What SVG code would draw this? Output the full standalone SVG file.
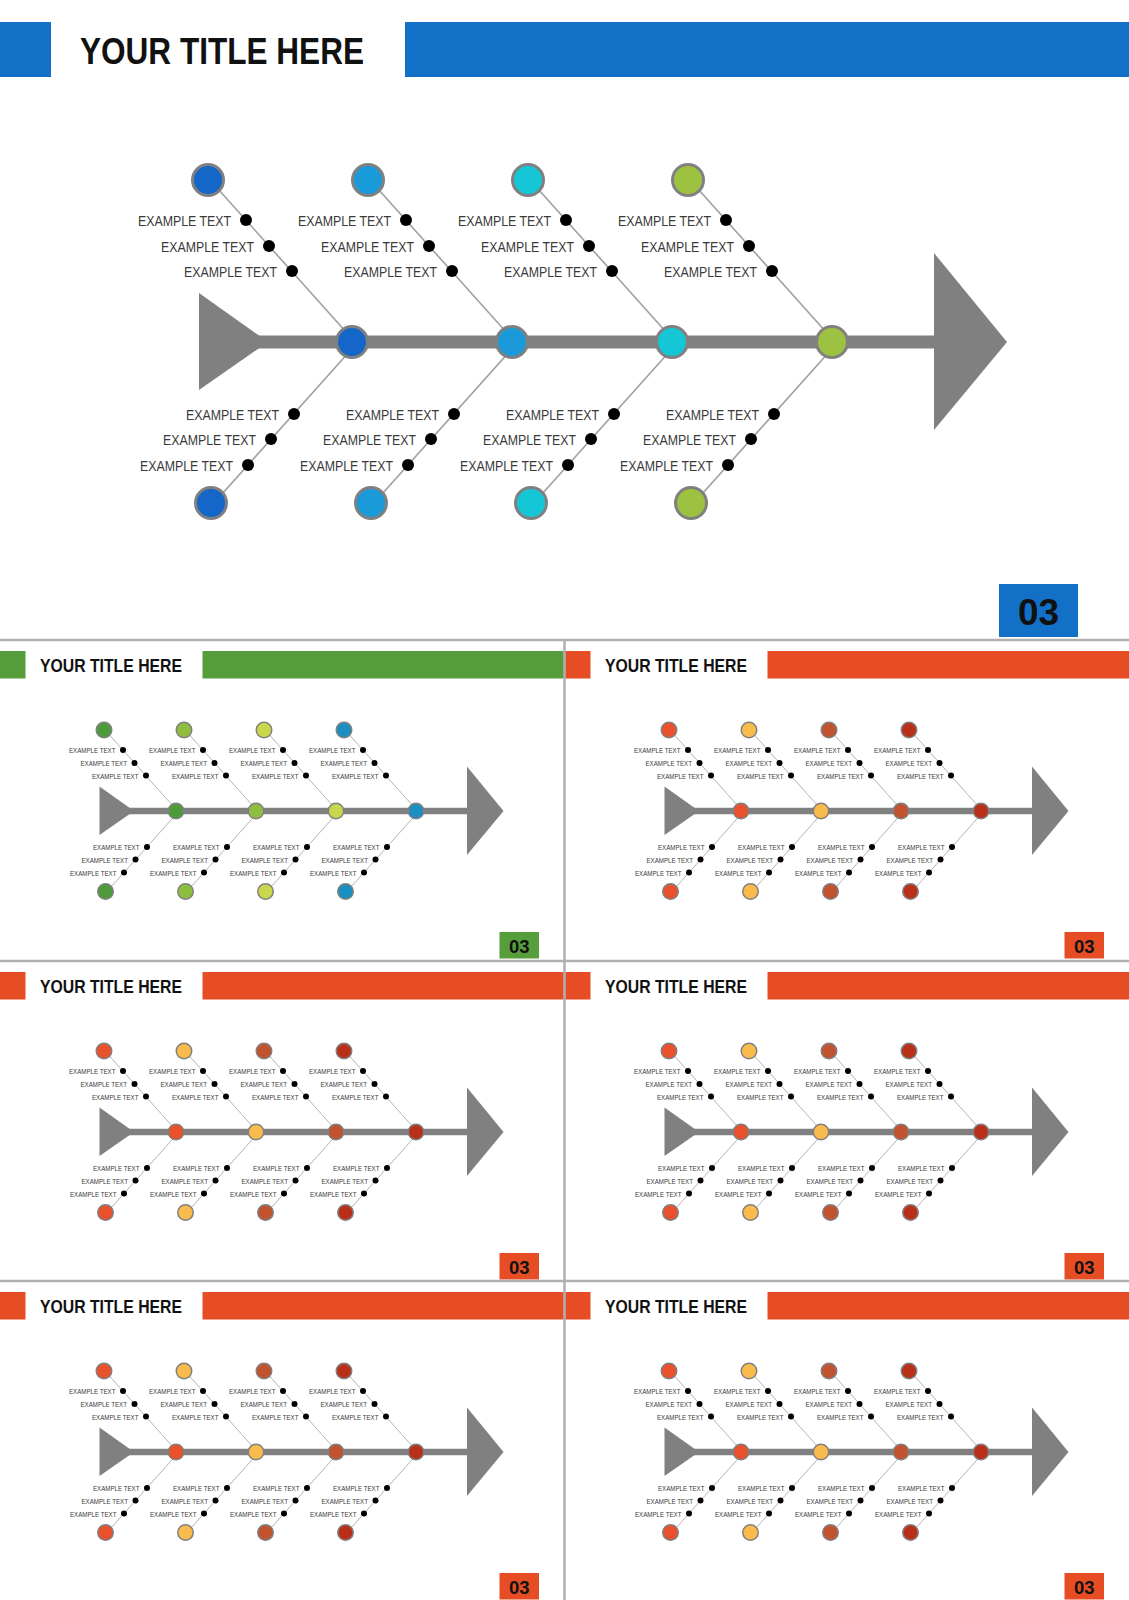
<svg xmlns="http://www.w3.org/2000/svg" width="1129" height="1600" viewBox="0 0 1129 1600">
<style>
.t{font-family:"Liberation Sans",Arial,sans-serif;font-size:15px;fill:#3a3a3a;text-anchor:end}
.ttl{font-family:"Liberation Sans",Arial,sans-serif;font-weight:700;font-size:37px;fill:#111}
.num{font-family:"Liberation Sans",Arial,sans-serif;font-weight:700;font-size:37px;fill:#111;text-anchor:middle}
.n{stroke:#808080;stroke-width:3}
.d{fill:#000}
.bone line{stroke:#a0a0a0;stroke-width:1.6}
.sp{fill:#808080}
.div line{stroke:#b0b0b0;stroke-width:2.5}
.blue .hd{fill:#1270c6}.blue .k0{fill:#1466c8}.blue .k1{fill:#1b9ad9}.blue .k2{fill:#15c6d6}.blue .k3{fill:#9dc241}
.green .hd{fill:#559e3b}.green .k0{fill:#4e9b3b}.green .k1{fill:#8fbd3f}.green .k2{fill:#c8d74b}.green .k3{fill:#1b8fc2}
.orange .hd{fill:#e64d24}.orange .k0{fill:#e8512b}.orange .k1{fill:#f8bb4c}.orange .k2{fill:#c2532f}.orange .k3{fill:#b9301a}
</style>
<rect x="0" y="0" width="1129" height="1600" fill="#ffffff"/>

<!-- MAIN SLIDE -->
<g id="m" class="blue">
<g id="m-header"><rect class="hd" x="0" y="22" width="51" height="55"/><text class="ttl" x="80" y="64" textLength="284" lengthAdjust="spacingAndGlyphs">YOUR TITLE HERE</text><rect class="hd" x="405" y="22" width="724" height="55"/></g>
<g id="m-spine"><polygon class="sp" points="199,293 199,390 268,342"/><rect class="sp" x="255" y="335.5" width="690" height="13"/><polygon class="sp" points="934,253 934,430 1007,342"/></g>
<g id="m-connectors" class="bone">
<line x1="210" y1="180" x2="355" y2="342"/><line x1="370" y1="180" x2="515" y2="342"/><line x1="530" y1="180" x2="675" y2="342"/><line x1="690" y1="180" x2="835" y2="342"/>
<line x1="358" y1="342" x2="214" y2="503"/><line x1="518" y1="342" x2="374" y2="503"/><line x1="678" y1="342" x2="534" y2="503"/><line x1="838" y1="342" x2="694" y2="503"/>
</g>
<g id="m-b0"><circle class="n k0" cx="208" cy="180" r="15.5"/><circle class="n k0" cx="352" cy="342" r="15.5"/><circle class="n k0" cx="211" cy="503" r="15.5"/>
<circle class="d" cx="246" cy="220" r="6"/><circle class="d" cx="269" cy="246" r="6"/><circle class="d" cx="292" cy="271" r="6"/><circle class="d" cx="294" cy="414" r="6"/><circle class="d" cx="271" cy="439" r="6"/><circle class="d" cx="248" cy="465" r="6"/>
<text class="t" x="231" y="226" textLength="93" lengthAdjust="spacingAndGlyphs">EXAMPLE TEXT</text><text class="t" x="254" y="252" textLength="93" lengthAdjust="spacingAndGlyphs">EXAMPLE TEXT</text><text class="t" x="277" y="277" textLength="93" lengthAdjust="spacingAndGlyphs">EXAMPLE TEXT</text>
<text class="t" x="279" y="420" textLength="93" lengthAdjust="spacingAndGlyphs">EXAMPLE TEXT</text><text class="t" x="256" y="445" textLength="93" lengthAdjust="spacingAndGlyphs">EXAMPLE TEXT</text><text class="t" x="233" y="471" textLength="93" lengthAdjust="spacingAndGlyphs">EXAMPLE TEXT</text></g>
<g id="m-b1" transform="translate(160,0)"><circle class="n k1" cx="208" cy="180" r="15.5"/><circle class="n k1" cx="352" cy="342" r="15.5"/><circle class="n k1" cx="211" cy="503" r="15.5"/>
<circle class="d" cx="246" cy="220" r="6"/><circle class="d" cx="269" cy="246" r="6"/><circle class="d" cx="292" cy="271" r="6"/><circle class="d" cx="294" cy="414" r="6"/><circle class="d" cx="271" cy="439" r="6"/><circle class="d" cx="248" cy="465" r="6"/>
<text class="t" x="231" y="226" textLength="93" lengthAdjust="spacingAndGlyphs">EXAMPLE TEXT</text><text class="t" x="254" y="252" textLength="93" lengthAdjust="spacingAndGlyphs">EXAMPLE TEXT</text><text class="t" x="277" y="277" textLength="93" lengthAdjust="spacingAndGlyphs">EXAMPLE TEXT</text>
<text class="t" x="279" y="420" textLength="93" lengthAdjust="spacingAndGlyphs">EXAMPLE TEXT</text><text class="t" x="256" y="445" textLength="93" lengthAdjust="spacingAndGlyphs">EXAMPLE TEXT</text><text class="t" x="233" y="471" textLength="93" lengthAdjust="spacingAndGlyphs">EXAMPLE TEXT</text></g>
<g id="m-b2" transform="translate(320,0)"><circle class="n k2" cx="208" cy="180" r="15.5"/><circle class="n k2" cx="352" cy="342" r="15.5"/><circle class="n k2" cx="211" cy="503" r="15.5"/>
<circle class="d" cx="246" cy="220" r="6"/><circle class="d" cx="269" cy="246" r="6"/><circle class="d" cx="292" cy="271" r="6"/><circle class="d" cx="294" cy="414" r="6"/><circle class="d" cx="271" cy="439" r="6"/><circle class="d" cx="248" cy="465" r="6"/>
<text class="t" x="231" y="226" textLength="93" lengthAdjust="spacingAndGlyphs">EXAMPLE TEXT</text><text class="t" x="254" y="252" textLength="93" lengthAdjust="spacingAndGlyphs">EXAMPLE TEXT</text><text class="t" x="277" y="277" textLength="93" lengthAdjust="spacingAndGlyphs">EXAMPLE TEXT</text>
<text class="t" x="279" y="420" textLength="93" lengthAdjust="spacingAndGlyphs">EXAMPLE TEXT</text><text class="t" x="256" y="445" textLength="93" lengthAdjust="spacingAndGlyphs">EXAMPLE TEXT</text><text class="t" x="233" y="471" textLength="93" lengthAdjust="spacingAndGlyphs">EXAMPLE TEXT</text></g>
<g id="m-b3" transform="translate(480,0)"><circle class="n k3" cx="208" cy="180" r="15.5"/><circle class="n k3" cx="352" cy="342" r="15.5"/><circle class="n k3" cx="211" cy="503" r="15.5"/>
<circle class="d" cx="246" cy="220" r="6"/><circle class="d" cx="269" cy="246" r="6"/><circle class="d" cx="292" cy="271" r="6"/><circle class="d" cx="294" cy="414" r="6"/><circle class="d" cx="271" cy="439" r="6"/><circle class="d" cx="248" cy="465" r="6"/>
<text class="t" x="231" y="226" textLength="93" lengthAdjust="spacingAndGlyphs">EXAMPLE TEXT</text><text class="t" x="254" y="252" textLength="93" lengthAdjust="spacingAndGlyphs">EXAMPLE TEXT</text><text class="t" x="277" y="277" textLength="93" lengthAdjust="spacingAndGlyphs">EXAMPLE TEXT</text>
<text class="t" x="279" y="420" textLength="93" lengthAdjust="spacingAndGlyphs">EXAMPLE TEXT</text><text class="t" x="256" y="445" textLength="93" lengthAdjust="spacingAndGlyphs">EXAMPLE TEXT</text><text class="t" x="233" y="471" textLength="93" lengthAdjust="spacingAndGlyphs">EXAMPLE TEXT</text></g>
<g id="m-page"><rect class="hd" x="999" y="584" width="79" height="53"/><text class="num" x="1038.5" y="625">03</text></g>
</g>

<!-- PANEL 1 (green) -->
<g id="p1" class="green" transform="translate(0,640) scale(0.5)">
<g id="p1-header"><rect class="hd" x="0" y="22" width="51" height="55"/><text class="ttl" x="80" y="64" textLength="284" lengthAdjust="spacingAndGlyphs">YOUR TITLE HERE</text><rect class="hd" x="405" y="22" width="724" height="55"/></g>
<g id="p1-spine"><polygon class="sp" points="199,293 199,390 268,342"/><rect class="sp" x="255" y="335.5" width="690" height="13"/><polygon class="sp" points="934,253 934,430 1007,342"/></g>
<g id="p1-connectors" class="bone">
<line x1="210" y1="180" x2="355" y2="342"/><line x1="370" y1="180" x2="515" y2="342"/><line x1="530" y1="180" x2="675" y2="342"/><line x1="690" y1="180" x2="835" y2="342"/>
<line x1="358" y1="342" x2="214" y2="503"/><line x1="518" y1="342" x2="374" y2="503"/><line x1="678" y1="342" x2="534" y2="503"/><line x1="838" y1="342" x2="694" y2="503"/>
</g>
<g id="p1-b0"><circle class="n k0" cx="208" cy="180" r="15.5"/><circle class="n k0" cx="352" cy="342" r="15.5"/><circle class="n k0" cx="211" cy="503" r="15.5"/>
<circle class="d" cx="246" cy="220" r="6"/><circle class="d" cx="269" cy="246" r="6"/><circle class="d" cx="292" cy="271" r="6"/><circle class="d" cx="294" cy="414" r="6"/><circle class="d" cx="271" cy="439" r="6"/><circle class="d" cx="248" cy="465" r="6"/>
<text class="t" x="231" y="226" textLength="93" lengthAdjust="spacingAndGlyphs">EXAMPLE TEXT</text><text class="t" x="254" y="252" textLength="93" lengthAdjust="spacingAndGlyphs">EXAMPLE TEXT</text><text class="t" x="277" y="277" textLength="93" lengthAdjust="spacingAndGlyphs">EXAMPLE TEXT</text>
<text class="t" x="279" y="420" textLength="93" lengthAdjust="spacingAndGlyphs">EXAMPLE TEXT</text><text class="t" x="256" y="445" textLength="93" lengthAdjust="spacingAndGlyphs">EXAMPLE TEXT</text><text class="t" x="233" y="471" textLength="93" lengthAdjust="spacingAndGlyphs">EXAMPLE TEXT</text></g>
<g id="p1-b1" transform="translate(160,0)"><circle class="n k1" cx="208" cy="180" r="15.5"/><circle class="n k1" cx="352" cy="342" r="15.5"/><circle class="n k1" cx="211" cy="503" r="15.5"/>
<circle class="d" cx="246" cy="220" r="6"/><circle class="d" cx="269" cy="246" r="6"/><circle class="d" cx="292" cy="271" r="6"/><circle class="d" cx="294" cy="414" r="6"/><circle class="d" cx="271" cy="439" r="6"/><circle class="d" cx="248" cy="465" r="6"/>
<text class="t" x="231" y="226" textLength="93" lengthAdjust="spacingAndGlyphs">EXAMPLE TEXT</text><text class="t" x="254" y="252" textLength="93" lengthAdjust="spacingAndGlyphs">EXAMPLE TEXT</text><text class="t" x="277" y="277" textLength="93" lengthAdjust="spacingAndGlyphs">EXAMPLE TEXT</text>
<text class="t" x="279" y="420" textLength="93" lengthAdjust="spacingAndGlyphs">EXAMPLE TEXT</text><text class="t" x="256" y="445" textLength="93" lengthAdjust="spacingAndGlyphs">EXAMPLE TEXT</text><text class="t" x="233" y="471" textLength="93" lengthAdjust="spacingAndGlyphs">EXAMPLE TEXT</text></g>
<g id="p1-b2" transform="translate(320,0)"><circle class="n k2" cx="208" cy="180" r="15.5"/><circle class="n k2" cx="352" cy="342" r="15.5"/><circle class="n k2" cx="211" cy="503" r="15.5"/>
<circle class="d" cx="246" cy="220" r="6"/><circle class="d" cx="269" cy="246" r="6"/><circle class="d" cx="292" cy="271" r="6"/><circle class="d" cx="294" cy="414" r="6"/><circle class="d" cx="271" cy="439" r="6"/><circle class="d" cx="248" cy="465" r="6"/>
<text class="t" x="231" y="226" textLength="93" lengthAdjust="spacingAndGlyphs">EXAMPLE TEXT</text><text class="t" x="254" y="252" textLength="93" lengthAdjust="spacingAndGlyphs">EXAMPLE TEXT</text><text class="t" x="277" y="277" textLength="93" lengthAdjust="spacingAndGlyphs">EXAMPLE TEXT</text>
<text class="t" x="279" y="420" textLength="93" lengthAdjust="spacingAndGlyphs">EXAMPLE TEXT</text><text class="t" x="256" y="445" textLength="93" lengthAdjust="spacingAndGlyphs">EXAMPLE TEXT</text><text class="t" x="233" y="471" textLength="93" lengthAdjust="spacingAndGlyphs">EXAMPLE TEXT</text></g>
<g id="p1-b3" transform="translate(480,0)"><circle class="n k3" cx="208" cy="180" r="15.5"/><circle class="n k3" cx="352" cy="342" r="15.5"/><circle class="n k3" cx="211" cy="503" r="15.5"/>
<circle class="d" cx="246" cy="220" r="6"/><circle class="d" cx="269" cy="246" r="6"/><circle class="d" cx="292" cy="271" r="6"/><circle class="d" cx="294" cy="414" r="6"/><circle class="d" cx="271" cy="439" r="6"/><circle class="d" cx="248" cy="465" r="6"/>
<text class="t" x="231" y="226" textLength="93" lengthAdjust="spacingAndGlyphs">EXAMPLE TEXT</text><text class="t" x="254" y="252" textLength="93" lengthAdjust="spacingAndGlyphs">EXAMPLE TEXT</text><text class="t" x="277" y="277" textLength="93" lengthAdjust="spacingAndGlyphs">EXAMPLE TEXT</text>
<text class="t" x="279" y="420" textLength="93" lengthAdjust="spacingAndGlyphs">EXAMPLE TEXT</text><text class="t" x="256" y="445" textLength="93" lengthAdjust="spacingAndGlyphs">EXAMPLE TEXT</text><text class="t" x="233" y="471" textLength="93" lengthAdjust="spacingAndGlyphs">EXAMPLE TEXT</text></g>
<g id="p1-page"><rect class="hd" x="999" y="584" width="79" height="53"/><text class="num" x="1038.5" y="625">03</text></g>
</g>

<!-- PANEL 2 (orange) -->
<g id="p2" class="orange" transform="translate(565,640) scale(0.5)">
<g id="p2-header"><rect class="hd" x="0" y="22" width="51" height="55"/><text class="ttl" x="80" y="64" textLength="284" lengthAdjust="spacingAndGlyphs">YOUR TITLE HERE</text><rect class="hd" x="405" y="22" width="724" height="55"/></g>
<g id="p2-spine"><polygon class="sp" points="199,293 199,390 268,342"/><rect class="sp" x="255" y="335.5" width="690" height="13"/><polygon class="sp" points="934,253 934,430 1007,342"/></g>
<g id="p2-connectors" class="bone">
<line x1="210" y1="180" x2="355" y2="342"/><line x1="370" y1="180" x2="515" y2="342"/><line x1="530" y1="180" x2="675" y2="342"/><line x1="690" y1="180" x2="835" y2="342"/>
<line x1="358" y1="342" x2="214" y2="503"/><line x1="518" y1="342" x2="374" y2="503"/><line x1="678" y1="342" x2="534" y2="503"/><line x1="838" y1="342" x2="694" y2="503"/>
</g>
<g id="p2-b0"><circle class="n k0" cx="208" cy="180" r="15.5"/><circle class="n k0" cx="352" cy="342" r="15.5"/><circle class="n k0" cx="211" cy="503" r="15.5"/>
<circle class="d" cx="246" cy="220" r="6"/><circle class="d" cx="269" cy="246" r="6"/><circle class="d" cx="292" cy="271" r="6"/><circle class="d" cx="294" cy="414" r="6"/><circle class="d" cx="271" cy="439" r="6"/><circle class="d" cx="248" cy="465" r="6"/>
<text class="t" x="231" y="226" textLength="93" lengthAdjust="spacingAndGlyphs">EXAMPLE TEXT</text><text class="t" x="254" y="252" textLength="93" lengthAdjust="spacingAndGlyphs">EXAMPLE TEXT</text><text class="t" x="277" y="277" textLength="93" lengthAdjust="spacingAndGlyphs">EXAMPLE TEXT</text>
<text class="t" x="279" y="420" textLength="93" lengthAdjust="spacingAndGlyphs">EXAMPLE TEXT</text><text class="t" x="256" y="445" textLength="93" lengthAdjust="spacingAndGlyphs">EXAMPLE TEXT</text><text class="t" x="233" y="471" textLength="93" lengthAdjust="spacingAndGlyphs">EXAMPLE TEXT</text></g>
<g id="p2-b1" transform="translate(160,0)"><circle class="n k1" cx="208" cy="180" r="15.5"/><circle class="n k1" cx="352" cy="342" r="15.5"/><circle class="n k1" cx="211" cy="503" r="15.5"/>
<circle class="d" cx="246" cy="220" r="6"/><circle class="d" cx="269" cy="246" r="6"/><circle class="d" cx="292" cy="271" r="6"/><circle class="d" cx="294" cy="414" r="6"/><circle class="d" cx="271" cy="439" r="6"/><circle class="d" cx="248" cy="465" r="6"/>
<text class="t" x="231" y="226" textLength="93" lengthAdjust="spacingAndGlyphs">EXAMPLE TEXT</text><text class="t" x="254" y="252" textLength="93" lengthAdjust="spacingAndGlyphs">EXAMPLE TEXT</text><text class="t" x="277" y="277" textLength="93" lengthAdjust="spacingAndGlyphs">EXAMPLE TEXT</text>
<text class="t" x="279" y="420" textLength="93" lengthAdjust="spacingAndGlyphs">EXAMPLE TEXT</text><text class="t" x="256" y="445" textLength="93" lengthAdjust="spacingAndGlyphs">EXAMPLE TEXT</text><text class="t" x="233" y="471" textLength="93" lengthAdjust="spacingAndGlyphs">EXAMPLE TEXT</text></g>
<g id="p2-b2" transform="translate(320,0)"><circle class="n k2" cx="208" cy="180" r="15.5"/><circle class="n k2" cx="352" cy="342" r="15.5"/><circle class="n k2" cx="211" cy="503" r="15.5"/>
<circle class="d" cx="246" cy="220" r="6"/><circle class="d" cx="269" cy="246" r="6"/><circle class="d" cx="292" cy="271" r="6"/><circle class="d" cx="294" cy="414" r="6"/><circle class="d" cx="271" cy="439" r="6"/><circle class="d" cx="248" cy="465" r="6"/>
<text class="t" x="231" y="226" textLength="93" lengthAdjust="spacingAndGlyphs">EXAMPLE TEXT</text><text class="t" x="254" y="252" textLength="93" lengthAdjust="spacingAndGlyphs">EXAMPLE TEXT</text><text class="t" x="277" y="277" textLength="93" lengthAdjust="spacingAndGlyphs">EXAMPLE TEXT</text>
<text class="t" x="279" y="420" textLength="93" lengthAdjust="spacingAndGlyphs">EXAMPLE TEXT</text><text class="t" x="256" y="445" textLength="93" lengthAdjust="spacingAndGlyphs">EXAMPLE TEXT</text><text class="t" x="233" y="471" textLength="93" lengthAdjust="spacingAndGlyphs">EXAMPLE TEXT</text></g>
<g id="p2-b3" transform="translate(480,0)"><circle class="n k3" cx="208" cy="180" r="15.5"/><circle class="n k3" cx="352" cy="342" r="15.5"/><circle class="n k3" cx="211" cy="503" r="15.5"/>
<circle class="d" cx="246" cy="220" r="6"/><circle class="d" cx="269" cy="246" r="6"/><circle class="d" cx="292" cy="271" r="6"/><circle class="d" cx="294" cy="414" r="6"/><circle class="d" cx="271" cy="439" r="6"/><circle class="d" cx="248" cy="465" r="6"/>
<text class="t" x="231" y="226" textLength="93" lengthAdjust="spacingAndGlyphs">EXAMPLE TEXT</text><text class="t" x="254" y="252" textLength="93" lengthAdjust="spacingAndGlyphs">EXAMPLE TEXT</text><text class="t" x="277" y="277" textLength="93" lengthAdjust="spacingAndGlyphs">EXAMPLE TEXT</text>
<text class="t" x="279" y="420" textLength="93" lengthAdjust="spacingAndGlyphs">EXAMPLE TEXT</text><text class="t" x="256" y="445" textLength="93" lengthAdjust="spacingAndGlyphs">EXAMPLE TEXT</text><text class="t" x="233" y="471" textLength="93" lengthAdjust="spacingAndGlyphs">EXAMPLE TEXT</text></g>
<g id="p2-page"><rect class="hd" x="999" y="584" width="79" height="53"/><text class="num" x="1038.5" y="625">03</text></g>
</g>

<!-- PANEL 3 (orange) -->
<g id="p3" class="orange" transform="translate(0,961) scale(0.5)">
<g id="p3-header"><rect class="hd" x="0" y="22" width="51" height="55"/><text class="ttl" x="80" y="64" textLength="284" lengthAdjust="spacingAndGlyphs">YOUR TITLE HERE</text><rect class="hd" x="405" y="22" width="724" height="55"/></g>
<g id="p3-spine"><polygon class="sp" points="199,293 199,390 268,342"/><rect class="sp" x="255" y="335.5" width="690" height="13"/><polygon class="sp" points="934,253 934,430 1007,342"/></g>
<g id="p3-connectors" class="bone">
<line x1="210" y1="180" x2="355" y2="342"/><line x1="370" y1="180" x2="515" y2="342"/><line x1="530" y1="180" x2="675" y2="342"/><line x1="690" y1="180" x2="835" y2="342"/>
<line x1="358" y1="342" x2="214" y2="503"/><line x1="518" y1="342" x2="374" y2="503"/><line x1="678" y1="342" x2="534" y2="503"/><line x1="838" y1="342" x2="694" y2="503"/>
</g>
<g id="p3-b0"><circle class="n k0" cx="208" cy="180" r="15.5"/><circle class="n k0" cx="352" cy="342" r="15.5"/><circle class="n k0" cx="211" cy="503" r="15.5"/>
<circle class="d" cx="246" cy="220" r="6"/><circle class="d" cx="269" cy="246" r="6"/><circle class="d" cx="292" cy="271" r="6"/><circle class="d" cx="294" cy="414" r="6"/><circle class="d" cx="271" cy="439" r="6"/><circle class="d" cx="248" cy="465" r="6"/>
<text class="t" x="231" y="226" textLength="93" lengthAdjust="spacingAndGlyphs">EXAMPLE TEXT</text><text class="t" x="254" y="252" textLength="93" lengthAdjust="spacingAndGlyphs">EXAMPLE TEXT</text><text class="t" x="277" y="277" textLength="93" lengthAdjust="spacingAndGlyphs">EXAMPLE TEXT</text>
<text class="t" x="279" y="420" textLength="93" lengthAdjust="spacingAndGlyphs">EXAMPLE TEXT</text><text class="t" x="256" y="445" textLength="93" lengthAdjust="spacingAndGlyphs">EXAMPLE TEXT</text><text class="t" x="233" y="471" textLength="93" lengthAdjust="spacingAndGlyphs">EXAMPLE TEXT</text></g>
<g id="p3-b1" transform="translate(160,0)"><circle class="n k1" cx="208" cy="180" r="15.5"/><circle class="n k1" cx="352" cy="342" r="15.5"/><circle class="n k1" cx="211" cy="503" r="15.5"/>
<circle class="d" cx="246" cy="220" r="6"/><circle class="d" cx="269" cy="246" r="6"/><circle class="d" cx="292" cy="271" r="6"/><circle class="d" cx="294" cy="414" r="6"/><circle class="d" cx="271" cy="439" r="6"/><circle class="d" cx="248" cy="465" r="6"/>
<text class="t" x="231" y="226" textLength="93" lengthAdjust="spacingAndGlyphs">EXAMPLE TEXT</text><text class="t" x="254" y="252" textLength="93" lengthAdjust="spacingAndGlyphs">EXAMPLE TEXT</text><text class="t" x="277" y="277" textLength="93" lengthAdjust="spacingAndGlyphs">EXAMPLE TEXT</text>
<text class="t" x="279" y="420" textLength="93" lengthAdjust="spacingAndGlyphs">EXAMPLE TEXT</text><text class="t" x="256" y="445" textLength="93" lengthAdjust="spacingAndGlyphs">EXAMPLE TEXT</text><text class="t" x="233" y="471" textLength="93" lengthAdjust="spacingAndGlyphs">EXAMPLE TEXT</text></g>
<g id="p3-b2" transform="translate(320,0)"><circle class="n k2" cx="208" cy="180" r="15.5"/><circle class="n k2" cx="352" cy="342" r="15.5"/><circle class="n k2" cx="211" cy="503" r="15.5"/>
<circle class="d" cx="246" cy="220" r="6"/><circle class="d" cx="269" cy="246" r="6"/><circle class="d" cx="292" cy="271" r="6"/><circle class="d" cx="294" cy="414" r="6"/><circle class="d" cx="271" cy="439" r="6"/><circle class="d" cx="248" cy="465" r="6"/>
<text class="t" x="231" y="226" textLength="93" lengthAdjust="spacingAndGlyphs">EXAMPLE TEXT</text><text class="t" x="254" y="252" textLength="93" lengthAdjust="spacingAndGlyphs">EXAMPLE TEXT</text><text class="t" x="277" y="277" textLength="93" lengthAdjust="spacingAndGlyphs">EXAMPLE TEXT</text>
<text class="t" x="279" y="420" textLength="93" lengthAdjust="spacingAndGlyphs">EXAMPLE TEXT</text><text class="t" x="256" y="445" textLength="93" lengthAdjust="spacingAndGlyphs">EXAMPLE TEXT</text><text class="t" x="233" y="471" textLength="93" lengthAdjust="spacingAndGlyphs">EXAMPLE TEXT</text></g>
<g id="p3-b3" transform="translate(480,0)"><circle class="n k3" cx="208" cy="180" r="15.5"/><circle class="n k3" cx="352" cy="342" r="15.5"/><circle class="n k3" cx="211" cy="503" r="15.5"/>
<circle class="d" cx="246" cy="220" r="6"/><circle class="d" cx="269" cy="246" r="6"/><circle class="d" cx="292" cy="271" r="6"/><circle class="d" cx="294" cy="414" r="6"/><circle class="d" cx="271" cy="439" r="6"/><circle class="d" cx="248" cy="465" r="6"/>
<text class="t" x="231" y="226" textLength="93" lengthAdjust="spacingAndGlyphs">EXAMPLE TEXT</text><text class="t" x="254" y="252" textLength="93" lengthAdjust="spacingAndGlyphs">EXAMPLE TEXT</text><text class="t" x="277" y="277" textLength="93" lengthAdjust="spacingAndGlyphs">EXAMPLE TEXT</text>
<text class="t" x="279" y="420" textLength="93" lengthAdjust="spacingAndGlyphs">EXAMPLE TEXT</text><text class="t" x="256" y="445" textLength="93" lengthAdjust="spacingAndGlyphs">EXAMPLE TEXT</text><text class="t" x="233" y="471" textLength="93" lengthAdjust="spacingAndGlyphs">EXAMPLE TEXT</text></g>
<g id="p3-page"><rect class="hd" x="999" y="584" width="79" height="53"/><text class="num" x="1038.5" y="625">03</text></g>
</g>

<!-- PANEL 4 (orange) -->
<g id="p4" class="orange" transform="translate(565,961) scale(0.5)">
<g id="p4-header"><rect class="hd" x="0" y="22" width="51" height="55"/><text class="ttl" x="80" y="64" textLength="284" lengthAdjust="spacingAndGlyphs">YOUR TITLE HERE</text><rect class="hd" x="405" y="22" width="724" height="55"/></g>
<g id="p4-spine"><polygon class="sp" points="199,293 199,390 268,342"/><rect class="sp" x="255" y="335.5" width="690" height="13"/><polygon class="sp" points="934,253 934,430 1007,342"/></g>
<g id="p4-connectors" class="bone">
<line x1="210" y1="180" x2="355" y2="342"/><line x1="370" y1="180" x2="515" y2="342"/><line x1="530" y1="180" x2="675" y2="342"/><line x1="690" y1="180" x2="835" y2="342"/>
<line x1="358" y1="342" x2="214" y2="503"/><line x1="518" y1="342" x2="374" y2="503"/><line x1="678" y1="342" x2="534" y2="503"/><line x1="838" y1="342" x2="694" y2="503"/>
</g>
<g id="p4-b0"><circle class="n k0" cx="208" cy="180" r="15.5"/><circle class="n k0" cx="352" cy="342" r="15.5"/><circle class="n k0" cx="211" cy="503" r="15.5"/>
<circle class="d" cx="246" cy="220" r="6"/><circle class="d" cx="269" cy="246" r="6"/><circle class="d" cx="292" cy="271" r="6"/><circle class="d" cx="294" cy="414" r="6"/><circle class="d" cx="271" cy="439" r="6"/><circle class="d" cx="248" cy="465" r="6"/>
<text class="t" x="231" y="226" textLength="93" lengthAdjust="spacingAndGlyphs">EXAMPLE TEXT</text><text class="t" x="254" y="252" textLength="93" lengthAdjust="spacingAndGlyphs">EXAMPLE TEXT</text><text class="t" x="277" y="277" textLength="93" lengthAdjust="spacingAndGlyphs">EXAMPLE TEXT</text>
<text class="t" x="279" y="420" textLength="93" lengthAdjust="spacingAndGlyphs">EXAMPLE TEXT</text><text class="t" x="256" y="445" textLength="93" lengthAdjust="spacingAndGlyphs">EXAMPLE TEXT</text><text class="t" x="233" y="471" textLength="93" lengthAdjust="spacingAndGlyphs">EXAMPLE TEXT</text></g>
<g id="p4-b1" transform="translate(160,0)"><circle class="n k1" cx="208" cy="180" r="15.5"/><circle class="n k1" cx="352" cy="342" r="15.5"/><circle class="n k1" cx="211" cy="503" r="15.5"/>
<circle class="d" cx="246" cy="220" r="6"/><circle class="d" cx="269" cy="246" r="6"/><circle class="d" cx="292" cy="271" r="6"/><circle class="d" cx="294" cy="414" r="6"/><circle class="d" cx="271" cy="439" r="6"/><circle class="d" cx="248" cy="465" r="6"/>
<text class="t" x="231" y="226" textLength="93" lengthAdjust="spacingAndGlyphs">EXAMPLE TEXT</text><text class="t" x="254" y="252" textLength="93" lengthAdjust="spacingAndGlyphs">EXAMPLE TEXT</text><text class="t" x="277" y="277" textLength="93" lengthAdjust="spacingAndGlyphs">EXAMPLE TEXT</text>
<text class="t" x="279" y="420" textLength="93" lengthAdjust="spacingAndGlyphs">EXAMPLE TEXT</text><text class="t" x="256" y="445" textLength="93" lengthAdjust="spacingAndGlyphs">EXAMPLE TEXT</text><text class="t" x="233" y="471" textLength="93" lengthAdjust="spacingAndGlyphs">EXAMPLE TEXT</text></g>
<g id="p4-b2" transform="translate(320,0)"><circle class="n k2" cx="208" cy="180" r="15.5"/><circle class="n k2" cx="352" cy="342" r="15.5"/><circle class="n k2" cx="211" cy="503" r="15.5"/>
<circle class="d" cx="246" cy="220" r="6"/><circle class="d" cx="269" cy="246" r="6"/><circle class="d" cx="292" cy="271" r="6"/><circle class="d" cx="294" cy="414" r="6"/><circle class="d" cx="271" cy="439" r="6"/><circle class="d" cx="248" cy="465" r="6"/>
<text class="t" x="231" y="226" textLength="93" lengthAdjust="spacingAndGlyphs">EXAMPLE TEXT</text><text class="t" x="254" y="252" textLength="93" lengthAdjust="spacingAndGlyphs">EXAMPLE TEXT</text><text class="t" x="277" y="277" textLength="93" lengthAdjust="spacingAndGlyphs">EXAMPLE TEXT</text>
<text class="t" x="279" y="420" textLength="93" lengthAdjust="spacingAndGlyphs">EXAMPLE TEXT</text><text class="t" x="256" y="445" textLength="93" lengthAdjust="spacingAndGlyphs">EXAMPLE TEXT</text><text class="t" x="233" y="471" textLength="93" lengthAdjust="spacingAndGlyphs">EXAMPLE TEXT</text></g>
<g id="p4-b3" transform="translate(480,0)"><circle class="n k3" cx="208" cy="180" r="15.5"/><circle class="n k3" cx="352" cy="342" r="15.5"/><circle class="n k3" cx="211" cy="503" r="15.5"/>
<circle class="d" cx="246" cy="220" r="6"/><circle class="d" cx="269" cy="246" r="6"/><circle class="d" cx="292" cy="271" r="6"/><circle class="d" cx="294" cy="414" r="6"/><circle class="d" cx="271" cy="439" r="6"/><circle class="d" cx="248" cy="465" r="6"/>
<text class="t" x="231" y="226" textLength="93" lengthAdjust="spacingAndGlyphs">EXAMPLE TEXT</text><text class="t" x="254" y="252" textLength="93" lengthAdjust="spacingAndGlyphs">EXAMPLE TEXT</text><text class="t" x="277" y="277" textLength="93" lengthAdjust="spacingAndGlyphs">EXAMPLE TEXT</text>
<text class="t" x="279" y="420" textLength="93" lengthAdjust="spacingAndGlyphs">EXAMPLE TEXT</text><text class="t" x="256" y="445" textLength="93" lengthAdjust="spacingAndGlyphs">EXAMPLE TEXT</text><text class="t" x="233" y="471" textLength="93" lengthAdjust="spacingAndGlyphs">EXAMPLE TEXT</text></g>
<g id="p4-page"><rect class="hd" x="999" y="584" width="79" height="53"/><text class="num" x="1038.5" y="625">03</text></g>
</g>

<!-- PANEL 5 (orange) -->
<g id="p5" class="orange" transform="translate(0,1281) scale(0.5)">
<g id="p5-header"><rect class="hd" x="0" y="22" width="51" height="55"/><text class="ttl" x="80" y="64" textLength="284" lengthAdjust="spacingAndGlyphs">YOUR TITLE HERE</text><rect class="hd" x="405" y="22" width="724" height="55"/></g>
<g id="p5-spine"><polygon class="sp" points="199,293 199,390 268,342"/><rect class="sp" x="255" y="335.5" width="690" height="13"/><polygon class="sp" points="934,253 934,430 1007,342"/></g>
<g id="p5-connectors" class="bone">
<line x1="210" y1="180" x2="355" y2="342"/><line x1="370" y1="180" x2="515" y2="342"/><line x1="530" y1="180" x2="675" y2="342"/><line x1="690" y1="180" x2="835" y2="342"/>
<line x1="358" y1="342" x2="214" y2="503"/><line x1="518" y1="342" x2="374" y2="503"/><line x1="678" y1="342" x2="534" y2="503"/><line x1="838" y1="342" x2="694" y2="503"/>
</g>
<g id="p5-b0"><circle class="n k0" cx="208" cy="180" r="15.5"/><circle class="n k0" cx="352" cy="342" r="15.5"/><circle class="n k0" cx="211" cy="503" r="15.5"/>
<circle class="d" cx="246" cy="220" r="6"/><circle class="d" cx="269" cy="246" r="6"/><circle class="d" cx="292" cy="271" r="6"/><circle class="d" cx="294" cy="414" r="6"/><circle class="d" cx="271" cy="439" r="6"/><circle class="d" cx="248" cy="465" r="6"/>
<text class="t" x="231" y="226" textLength="93" lengthAdjust="spacingAndGlyphs">EXAMPLE TEXT</text><text class="t" x="254" y="252" textLength="93" lengthAdjust="spacingAndGlyphs">EXAMPLE TEXT</text><text class="t" x="277" y="277" textLength="93" lengthAdjust="spacingAndGlyphs">EXAMPLE TEXT</text>
<text class="t" x="279" y="420" textLength="93" lengthAdjust="spacingAndGlyphs">EXAMPLE TEXT</text><text class="t" x="256" y="445" textLength="93" lengthAdjust="spacingAndGlyphs">EXAMPLE TEXT</text><text class="t" x="233" y="471" textLength="93" lengthAdjust="spacingAndGlyphs">EXAMPLE TEXT</text></g>
<g id="p5-b1" transform="translate(160,0)"><circle class="n k1" cx="208" cy="180" r="15.5"/><circle class="n k1" cx="352" cy="342" r="15.5"/><circle class="n k1" cx="211" cy="503" r="15.5"/>
<circle class="d" cx="246" cy="220" r="6"/><circle class="d" cx="269" cy="246" r="6"/><circle class="d" cx="292" cy="271" r="6"/><circle class="d" cx="294" cy="414" r="6"/><circle class="d" cx="271" cy="439" r="6"/><circle class="d" cx="248" cy="465" r="6"/>
<text class="t" x="231" y="226" textLength="93" lengthAdjust="spacingAndGlyphs">EXAMPLE TEXT</text><text class="t" x="254" y="252" textLength="93" lengthAdjust="spacingAndGlyphs">EXAMPLE TEXT</text><text class="t" x="277" y="277" textLength="93" lengthAdjust="spacingAndGlyphs">EXAMPLE TEXT</text>
<text class="t" x="279" y="420" textLength="93" lengthAdjust="spacingAndGlyphs">EXAMPLE TEXT</text><text class="t" x="256" y="445" textLength="93" lengthAdjust="spacingAndGlyphs">EXAMPLE TEXT</text><text class="t" x="233" y="471" textLength="93" lengthAdjust="spacingAndGlyphs">EXAMPLE TEXT</text></g>
<g id="p5-b2" transform="translate(320,0)"><circle class="n k2" cx="208" cy="180" r="15.5"/><circle class="n k2" cx="352" cy="342" r="15.5"/><circle class="n k2" cx="211" cy="503" r="15.5"/>
<circle class="d" cx="246" cy="220" r="6"/><circle class="d" cx="269" cy="246" r="6"/><circle class="d" cx="292" cy="271" r="6"/><circle class="d" cx="294" cy="414" r="6"/><circle class="d" cx="271" cy="439" r="6"/><circle class="d" cx="248" cy="465" r="6"/>
<text class="t" x="231" y="226" textLength="93" lengthAdjust="spacingAndGlyphs">EXAMPLE TEXT</text><text class="t" x="254" y="252" textLength="93" lengthAdjust="spacingAndGlyphs">EXAMPLE TEXT</text><text class="t" x="277" y="277" textLength="93" lengthAdjust="spacingAndGlyphs">EXAMPLE TEXT</text>
<text class="t" x="279" y="420" textLength="93" lengthAdjust="spacingAndGlyphs">EXAMPLE TEXT</text><text class="t" x="256" y="445" textLength="93" lengthAdjust="spacingAndGlyphs">EXAMPLE TEXT</text><text class="t" x="233" y="471" textLength="93" lengthAdjust="spacingAndGlyphs">EXAMPLE TEXT</text></g>
<g id="p5-b3" transform="translate(480,0)"><circle class="n k3" cx="208" cy="180" r="15.5"/><circle class="n k3" cx="352" cy="342" r="15.5"/><circle class="n k3" cx="211" cy="503" r="15.5"/>
<circle class="d" cx="246" cy="220" r="6"/><circle class="d" cx="269" cy="246" r="6"/><circle class="d" cx="292" cy="271" r="6"/><circle class="d" cx="294" cy="414" r="6"/><circle class="d" cx="271" cy="439" r="6"/><circle class="d" cx="248" cy="465" r="6"/>
<text class="t" x="231" y="226" textLength="93" lengthAdjust="spacingAndGlyphs">EXAMPLE TEXT</text><text class="t" x="254" y="252" textLength="93" lengthAdjust="spacingAndGlyphs">EXAMPLE TEXT</text><text class="t" x="277" y="277" textLength="93" lengthAdjust="spacingAndGlyphs">EXAMPLE TEXT</text>
<text class="t" x="279" y="420" textLength="93" lengthAdjust="spacingAndGlyphs">EXAMPLE TEXT</text><text class="t" x="256" y="445" textLength="93" lengthAdjust="spacingAndGlyphs">EXAMPLE TEXT</text><text class="t" x="233" y="471" textLength="93" lengthAdjust="spacingAndGlyphs">EXAMPLE TEXT</text></g>
<g id="p5-page"><rect class="hd" x="999" y="584" width="79" height="53"/><text class="num" x="1038.5" y="625">03</text></g>
</g>

<!-- PANEL 6 (orange) -->
<g id="p6" class="orange" transform="translate(565,1281) scale(0.5)">
<g id="p6-header"><rect class="hd" x="0" y="22" width="51" height="55"/><text class="ttl" x="80" y="64" textLength="284" lengthAdjust="spacingAndGlyphs">YOUR TITLE HERE</text><rect class="hd" x="405" y="22" width="724" height="55"/></g>
<g id="p6-spine"><polygon class="sp" points="199,293 199,390 268,342"/><rect class="sp" x="255" y="335.5" width="690" height="13"/><polygon class="sp" points="934,253 934,430 1007,342"/></g>
<g id="p6-connectors" class="bone">
<line x1="210" y1="180" x2="355" y2="342"/><line x1="370" y1="180" x2="515" y2="342"/><line x1="530" y1="180" x2="675" y2="342"/><line x1="690" y1="180" x2="835" y2="342"/>
<line x1="358" y1="342" x2="214" y2="503"/><line x1="518" y1="342" x2="374" y2="503"/><line x1="678" y1="342" x2="534" y2="503"/><line x1="838" y1="342" x2="694" y2="503"/>
</g>
<g id="p6-b0"><circle class="n k0" cx="208" cy="180" r="15.5"/><circle class="n k0" cx="352" cy="342" r="15.5"/><circle class="n k0" cx="211" cy="503" r="15.5"/>
<circle class="d" cx="246" cy="220" r="6"/><circle class="d" cx="269" cy="246" r="6"/><circle class="d" cx="292" cy="271" r="6"/><circle class="d" cx="294" cy="414" r="6"/><circle class="d" cx="271" cy="439" r="6"/><circle class="d" cx="248" cy="465" r="6"/>
<text class="t" x="231" y="226" textLength="93" lengthAdjust="spacingAndGlyphs">EXAMPLE TEXT</text><text class="t" x="254" y="252" textLength="93" lengthAdjust="spacingAndGlyphs">EXAMPLE TEXT</text><text class="t" x="277" y="277" textLength="93" lengthAdjust="spacingAndGlyphs">EXAMPLE TEXT</text>
<text class="t" x="279" y="420" textLength="93" lengthAdjust="spacingAndGlyphs">EXAMPLE TEXT</text><text class="t" x="256" y="445" textLength="93" lengthAdjust="spacingAndGlyphs">EXAMPLE TEXT</text><text class="t" x="233" y="471" textLength="93" lengthAdjust="spacingAndGlyphs">EXAMPLE TEXT</text></g>
<g id="p6-b1" transform="translate(160,0)"><circle class="n k1" cx="208" cy="180" r="15.5"/><circle class="n k1" cx="352" cy="342" r="15.5"/><circle class="n k1" cx="211" cy="503" r="15.5"/>
<circle class="d" cx="246" cy="220" r="6"/><circle class="d" cx="269" cy="246" r="6"/><circle class="d" cx="292" cy="271" r="6"/><circle class="d" cx="294" cy="414" r="6"/><circle class="d" cx="271" cy="439" r="6"/><circle class="d" cx="248" cy="465" r="6"/>
<text class="t" x="231" y="226" textLength="93" lengthAdjust="spacingAndGlyphs">EXAMPLE TEXT</text><text class="t" x="254" y="252" textLength="93" lengthAdjust="spacingAndGlyphs">EXAMPLE TEXT</text><text class="t" x="277" y="277" textLength="93" lengthAdjust="spacingAndGlyphs">EXAMPLE TEXT</text>
<text class="t" x="279" y="420" textLength="93" lengthAdjust="spacingAndGlyphs">EXAMPLE TEXT</text><text class="t" x="256" y="445" textLength="93" lengthAdjust="spacingAndGlyphs">EXAMPLE TEXT</text><text class="t" x="233" y="471" textLength="93" lengthAdjust="spacingAndGlyphs">EXAMPLE TEXT</text></g>
<g id="p6-b2" transform="translate(320,0)"><circle class="n k2" cx="208" cy="180" r="15.5"/><circle class="n k2" cx="352" cy="342" r="15.5"/><circle class="n k2" cx="211" cy="503" r="15.5"/>
<circle class="d" cx="246" cy="220" r="6"/><circle class="d" cx="269" cy="246" r="6"/><circle class="d" cx="292" cy="271" r="6"/><circle class="d" cx="294" cy="414" r="6"/><circle class="d" cx="271" cy="439" r="6"/><circle class="d" cx="248" cy="465" r="6"/>
<text class="t" x="231" y="226" textLength="93" lengthAdjust="spacingAndGlyphs">EXAMPLE TEXT</text><text class="t" x="254" y="252" textLength="93" lengthAdjust="spacingAndGlyphs">EXAMPLE TEXT</text><text class="t" x="277" y="277" textLength="93" lengthAdjust="spacingAndGlyphs">EXAMPLE TEXT</text>
<text class="t" x="279" y="420" textLength="93" lengthAdjust="spacingAndGlyphs">EXAMPLE TEXT</text><text class="t" x="256" y="445" textLength="93" lengthAdjust="spacingAndGlyphs">EXAMPLE TEXT</text><text class="t" x="233" y="471" textLength="93" lengthAdjust="spacingAndGlyphs">EXAMPLE TEXT</text></g>
<g id="p6-b3" transform="translate(480,0)"><circle class="n k3" cx="208" cy="180" r="15.5"/><circle class="n k3" cx="352" cy="342" r="15.5"/><circle class="n k3" cx="211" cy="503" r="15.5"/>
<circle class="d" cx="246" cy="220" r="6"/><circle class="d" cx="269" cy="246" r="6"/><circle class="d" cx="292" cy="271" r="6"/><circle class="d" cx="294" cy="414" r="6"/><circle class="d" cx="271" cy="439" r="6"/><circle class="d" cx="248" cy="465" r="6"/>
<text class="t" x="231" y="226" textLength="93" lengthAdjust="spacingAndGlyphs">EXAMPLE TEXT</text><text class="t" x="254" y="252" textLength="93" lengthAdjust="spacingAndGlyphs">EXAMPLE TEXT</text><text class="t" x="277" y="277" textLength="93" lengthAdjust="spacingAndGlyphs">EXAMPLE TEXT</text>
<text class="t" x="279" y="420" textLength="93" lengthAdjust="spacingAndGlyphs">EXAMPLE TEXT</text><text class="t" x="256" y="445" textLength="93" lengthAdjust="spacingAndGlyphs">EXAMPLE TEXT</text><text class="t" x="233" y="471" textLength="93" lengthAdjust="spacingAndGlyphs">EXAMPLE TEXT</text></g>
<g id="p6-page"><rect class="hd" x="999" y="584" width="79" height="53"/><text class="num" x="1038.5" y="625">03</text></g>
</g>

<!-- DIVIDERS -->
<g id="dividers" class="div">
<line x1="0" y1="640" x2="1129" y2="640"/>
<line x1="0" y1="961" x2="1129" y2="961"/>
<line x1="0" y1="1281" x2="1129" y2="1281"/>
<line x1="564.5" y1="640" x2="564.5" y2="1600"/>
</g>
</svg>
